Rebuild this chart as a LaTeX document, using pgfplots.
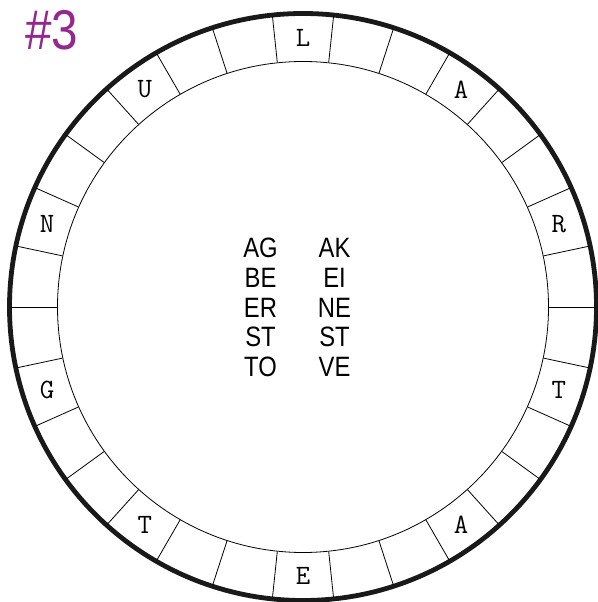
\documentclass[border=0pt]{standalone}
\usepackage{pgfplots}
\usepackage{pgfplotstable}
\pgfplotsset{compat=1.18}
\usepackage{fontspec}
\setmainfont{Liberation Sans}
\newfontfamily\condfont[FakeStretch=0.85]{Liberation Sans}
\newcommand{\ringtxt}[1]{{\ttfamily\addfontfeature{FakeBold=0.8}\fontsize{28}{28}\selectfont #1}}
\newcommand{\wordtxt}[1]{{\condfont\fontsize{28}{28}\selectfont #1}}
\definecolor{hashpurple}{RGB}{148,40,142}
\pgfplotstableread{
ang ch
18 R
54 A
90 L
126 U
162 N
198 G
234 T
270 E
306 A
342 T
}\ringletters
\pgfplotstableread{
x ybase word
260.5 258 AG
260.5 288 BE
260.5 318 ER
260.5 347 ST
260.5 377 TO
334.5 258 AK
334.5 288 EI
334.5 318 NE
334.5 347 ST
334.5 377 VE
}\words
\begin{document}
\begin{tikzpicture}
\begin{axis}[
  scale only axis, width=597pt, height=602pt,
  xmin=0, xmax=597, ymin=0, ymax=602,
  hide axis, clip=false,
]
% circles (centre at pixel 303,307 -> axis y = 602-307)
\draw[line width=0.8pt] (axis cs:303,295) circle[radius=245.5];
\draw[line width=4.8pt, black!90] (axis cs:303,295) circle[radius=293.5];
% 30 segment dividers, every 12 degrees
\pgfplotsinvokeforeach{0,...,29}{
  \draw[line width=0.8pt] (axis cs:{303+246*cos(12*#1)},{295+246*sin(12*#1)}) -- (axis cs:{303+292*cos(12*#1)},{295+292*sin(12*#1)});
}
% ring letters
\addplot[draw=none, mark=none, point meta=explicit symbolic,
  nodes near coords={\ringtxt{\pgfplotspointmeta}},
  every node near coord/.style={anchor=center, inner sep=0}]
  table[x expr={303+269*cos(\thisrow{ang})}, y expr={295+269*sin(\thisrow{ang})}, meta=ch] {\ringletters};
% centre word list
\addplot[draw=none, mark=none, point meta=explicit symbolic,
  nodes near coords={\wordtxt{\pgfplotspointmeta}},
  every node near coord/.style={anchor=base, inner sep=0}]
  table[x=x, y expr={602-\thisrow{ybase}}, meta=word] {\words};
% title
\node[anchor=base west, inner sep=0, text=hashpurple, font=\condfont\fontsize{56}{56}\selectfont] at (axis cs:25,552) {\#3};
\end{axis}
\pgfresetboundingbox
\path (0,0) rectangle (597pt,602pt);
\end{tikzpicture}
\end{document}
